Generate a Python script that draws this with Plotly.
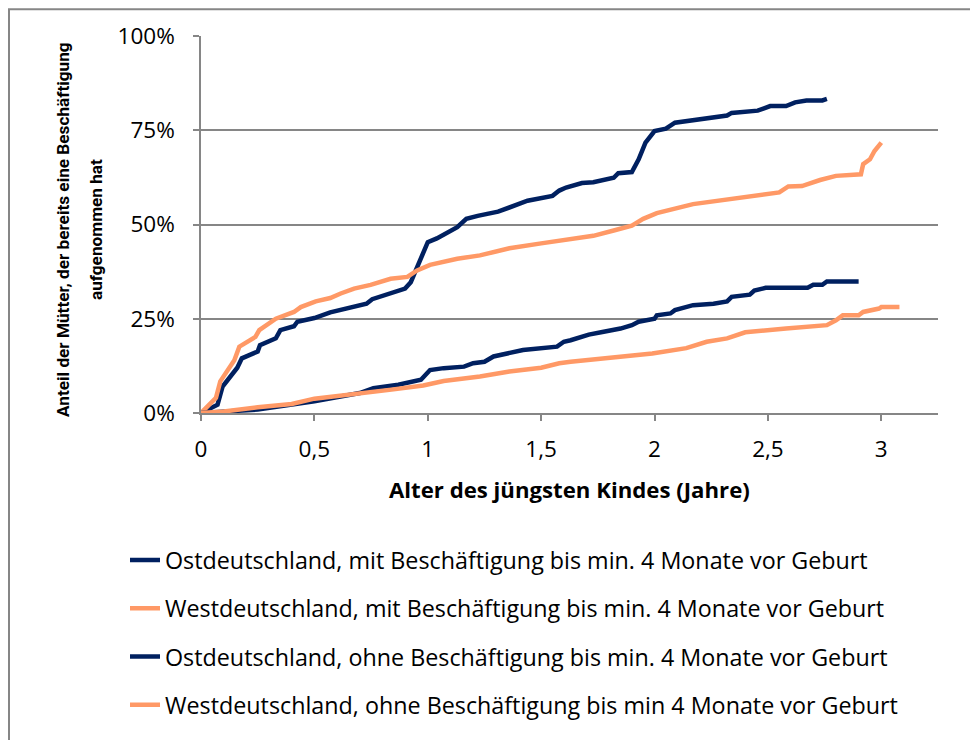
import plotly.graph_objects as go

# Data (x = age of youngest child in years, y = share in %)
ost_mit_x = [0, 0.073, 0.095, 0.16, 0.18, 0.25, 0.26, 0.33, 0.35, 0.41, 0.425, 0.50, 0.57, 0.73, 0.755,
             0.84, 0.90, 0.925, 0.97, 1.0, 1.04, 1.13, 1.17, 1.22, 1.31, 1.41, 1.44, 1.55, 1.58, 1.61,
             1.68, 1.73, 1.82, 1.84, 1.90, 1.93, 1.96, 2.0, 2.05, 2.09, 2.17, 2.32, 2.34, 2.455, 2.51,
             2.58, 2.62, 2.67, 2.74, 2.76]
ost_mit_y = [0, 2.2, 7, 12, 14.5, 16.3, 18, 19.8, 22, 23, 24.2, 25.2, 26.7, 29, 30.2,
             31.7, 33, 34.7, 40.9, 45.3, 46.3, 49.3, 51.5, 52.3, 53.4, 55.4, 56.3, 57.6, 59.0, 59.8,
             61, 61.2, 62.4, 63.6, 63.9, 67.3, 71.7, 74.8, 75.4, 77, 77.7, 78.9, 79.6, 80.2, 81.4,
             81.4, 82.4, 82.9, 82.9, 83.3]

west_mit_x = [0, 0.066, 0.085, 0.147, 0.169, 0.24, 0.257, 0.33, 0.41, 0.44, 0.506, 0.57, 0.616, 0.675,
              0.748, 0.836, 0.91, 0.953, 1.01, 1.13, 1.23, 1.36, 1.50, 1.63, 1.73, 1.82, 1.90, 1.95,
              2.01, 2.17, 2.29, 2.40, 2.55, 2.59, 2.65, 2.73, 2.80, 2.91, 2.92, 2.95, 2.97, 3.00]
west_mit_y = [0, 4, 8.4, 14, 17.6, 20.2, 22, 25, 26.8, 28.1, 29.6, 30.5, 31.7, 33,
              34, 35.6, 36.1, 37.8, 39.3, 40.9, 41.8, 43.7, 45, 46.2, 47, 48.4, 49.7, 51.5,
              53, 55.4, 56.3, 57.2, 58.5, 60.1, 60.2, 61.8, 62.9, 63.3, 66, 67.3, 69.5, 71.7]

ost_ohne_x = [0, 0.25, 0.50, 0.70, 0.76, 0.87, 0.97, 1.01, 1.07, 1.16, 1.20, 1.25, 1.29, 1.36, 1.42,
              1.57, 1.60, 1.63, 1.71, 1.77, 1.85, 1.90, 1.93, 2.0, 2.01, 2.07, 2.09, 2.17, 2.26,
              2.32, 2.34, 2.42, 2.44, 2.49, 2.675, 2.70, 2.74, 2.76, 2.90]
ost_ohne_y = [0, 0.9, 3.1, 5.3, 6.6, 7.5, 8.8, 11.4, 11.9, 12.3, 13.2, 13.6, 15, 15.8, 16.7,
              17.6, 18.9, 19.3, 20.8, 21.5, 22.4, 23.3, 24.2, 25, 25.9, 26.4, 27.3, 28.6, 29,
              29.6, 30.8, 31.4, 32.5, 33.2, 33.2, 34, 34, 34.9, 34.9]

west_ohne_x = [0, 0.10, 0.25, 0.40, 0.50, 0.66, 0.84, 0.98, 1.07, 1.23, 1.36, 1.50, 1.58, 1.63, 1.73,
               1.82, 1.99, 2.14, 2.23, 2.32, 2.40, 2.58, 2.76, 2.80, 2.83, 2.90, 2.92, 2.99, 3.00, 3.08]
west_ohne_y = [0, 0.4, 1.5, 2.4, 3.8, 4.8, 6.2, 7.3, 8.5, 9.7, 11, 12, 13.2, 13.6, 14.2,
               15, 15.8, 17.2, 18.9, 19.8, 21.4, 22.4, 23.3, 24.6, 25.9, 25.9, 26.8, 27.7, 28.1, 28.1]

names = [
    "Ostdeutschland, mit Beschäftigung bis min. 4 Monate vor Geburt",
    "Westdeutschland, mit Beschäftigung bis min. 4 Monate vor Geburt",
    "Ostdeutschland, ohne Beschäftigung bis min. 4 Monate vor Geburt",
    "Westdeutschland, ohne Beschäftigung bis min 4 Monate vor Geburt",
]
x_ticks = [0, 0.5, 1, 1.5, 2, 2.5, 3]
x_tick_labels = ["0", "0,5", "1", "1,5", "2", "2,5", "3"]
y_ticks = [0, 25, 50, 75, 100]
y_tick_labels = ["0%", "25%", "50%", "75%", "100%"]
x_title = "Alter des jüngsten Kindes (Jahre)"
y_title_lines = ["Anteil der Mütter, der bereits eine Beschäftigung", "aufgenommen hat"]

NAVY = "#002060"
ORANGE = "#FF9966"
FONT = "Open Sans"
GRID = "#868686"

series = [
    (ost_mit_x, ost_mit_y, NAVY),
    (west_mit_x, west_mit_y, ORANGE),
    (ost_ohne_x, ost_ohne_y, NAVY),
    (west_ohne_x, west_ohne_y, ORANGE),
]

fig = go.Figure()
for i, ((xs, ys, col), nm) in enumerate(zip(series, names)):
    fig.add_trace(go.Scatter(
        x=xs, y=ys, mode="lines", name=nm, legendgroup=f"g{i}",
        line=dict(color=col, width=4.5),
    ))

# page body has an 8px margin, so work in coordinates shifted by 8px
OFF = 8
W, H = 978 - OFF, 740 - OFF
L, R, T, B = 201 - OFF, 938 - OFF, 36 - OFF, 415 - OFF
pw, ph = R - L, B - T

def px(xs):  # screen x -> paper
    return (xs - OFF - L) / pw

def py(ys):  # screen y -> paper
    return (B - (ys - OFF)) / ph

fig.update_layout(
    width=W, height=H,
    margin=dict(l=L, r=W - R, t=T, b=H - B),
    paper_bgcolor="white", plot_bgcolor="white",
    font=dict(family=FONT, size=22, color="black"),
    showlegend=True,
    legend=dict(
        x=px(125), y=py(541), xanchor="left", yanchor="top",
        font=dict(family=FONT, size=23.3, color="black"),
        tracegroupgap=15, bgcolor="rgba(0,0,0,0)",
    ),
    xaxis=dict(
        range=[0, 3.25], tickmode="array", tickvals=x_ticks, ticktext=x_tick_labels,
        showgrid=False, zeroline=False, showline=True, linecolor=GRID, linewidth=1.5,
        ticks="outside", ticklen=6, tickcolor=GRID, tickwidth=1.5,
        ticklabelstandoff=9, tickfont=dict(size=22.5),
    ),
    yaxis=dict(
        range=[0, 100], tickmode="array", tickvals=y_ticks, ticktext=y_tick_labels,
        showgrid=True, gridcolor=GRID, gridwidth=1.5,
        zeroline=False, showline=True, linecolor=GRID, linewidth=1.5,
        ticks="outside", ticklen=6, tickcolor=GRID, tickwidth=1.5,
        ticklabelstandoff=14, tickfont=dict(size=22.5),
    ),
    annotations=[
        dict(text=f"<b>{x_title}</b>", xref="paper", yref="paper",
             x=px(569), y=py(492), xanchor="center", yanchor="middle", showarrow=False,
             font=dict(family=FONT, size=22.2, color="black")),
        dict(text=f"<b>{y_title_lines[0]}</b>", xref="paper", yref="paper",
             x=px(63), y=py(231), xanchor="center", yanchor="middle",
             textangle=-90, showarrow=False,
             font=dict(family="Roboto", size=17.2, color="black")),
        dict(text=f"<b>{y_title_lines[1]}</b>", xref="paper", yref="paper",
             x=px(96), y=py(231), xanchor="center", yanchor="middle",
             textangle=-90, showarrow=False,
             font=dict(family="Roboto", size=17.2, color="black")),
    ],
    shapes=[
        dict(type="rect", xref="paper", yref="paper", x0=px(9), y0=py(760), x1=px(1000), y1=py(9),
             line=dict(color=GRID, width=2), fillcolor="rgba(0,0,0,0)", layer="below"),
    ],
)

fig.write_html("out.html")
